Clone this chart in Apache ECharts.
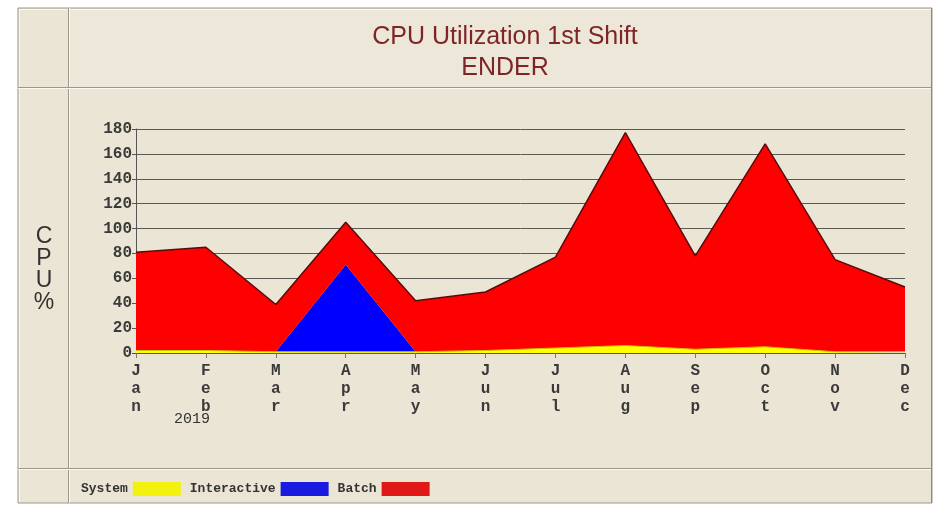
<!DOCTYPE html>
<html>
<head>
<meta charset="utf-8">
<script src="https://cdn.jsdelivr.net/npm/echarts@6/dist/echarts.min.js"></script>
<style>
html,body{margin:0;padding:0;background:#ffffff;}
#c{width:942px;height:505px;}
</style>
</head>
<body>
<div id="c"></div>
<script>
const categories = ['Jan','Feb','Mar','Apr','May','Jun','Jul','Aug','Sep','Oct','Nov','Dec'];
const systemValues = [2, 2, 1, 1, 1, 2, 4, 6, 3, 5, 1, 1];
const interactiveValues = [0, 0, 0, 70, 0, 0, 0, 0, 0, 0, 0, 0];
const batchValues = [79, 83, 38, 34, 41, 47, 73, 171, 75, 163, 74, 52];
const yTicks = [0, 20, 40, 60, 80, 100, 120, 140, 160, 180];
const titleLines = ['CPU Utilization 1st Shift', 'ENDER'];
const yearLabel = '2019';

const chart = echarts.init(document.getElementById('c'), null, {renderer: 'canvas'});

const bg = '#ebe5d6';
const dark = '#9c978a';
const light = '#fbf8ef';

function hline(x1, x2, y, color) {
  return {type: 'line', shape: {x1: x1, y1: y, x2: x2, y2: y}, style: {stroke: color, lineWidth: 1}, silent: true};
}
function vline(x, y1, y2, color) {
  return {type: 'line', shape: {x1: x, y1: y1, x2: x, y2: y2}, style: {stroke: color, lineWidth: 1}, silent: true};
}

const frame = [
  {type: 'rect', shape: {x: 18, y: 8, width: 914, height: 495}, style: {fill: bg, stroke: dark, lineWidth: 1}, z: -10, silent: true},
  {type: 'rect', shape: {x: 69, y: 9, width: 862, height: 78}, style: {fill: '#ede7da'}, z: -9, silent: true},
  vline(19.5, 9, 502, light),
  hline(19, 931, 9.5, light),
  vline(68.5, 8, 503, dark),
  vline(69.5, 8, 503, light),
  hline(18, 932, 87.5, dark),
  hline(18, 932, 88.5, light),
  hline(18, 932, 468.5, dark),
  hline(18, 932, 469.5, light),
  vline(931.5, 8, 503, '#8f8a7e'),
  {type: 'text', x: 44, y: 270, style: {text: 'C\nP\nU\n%', font: '23px "Liberation Sans", Arial, sans-serif', fill: '#333', lineHeight: 22, align: 'center', verticalAlign: 'middle'}, silent: true},
  {type: 'text', x: 192, y: 419, style: {text: yearLabel, font: '15px "Liberation Mono", "Courier New", monospace', fill: '#333', align: 'center', verticalAlign: 'middle'}, silent: true}
];

const option = {
  backgroundColor: '#ffffff',
  animation: false,
  title: {
    text: titleLines.join('\n'),
    left: 500,
    top: 17,
    textAlign: 'center',
    textStyle: {fontFamily: '"Liberation Sans", Arial, sans-serif', fontSize: 25, fontWeight: 'normal', color: '#7e2626', lineHeight: 31}
  },
  legend: {
    left: 76,
    top: 477,
    align: 'right',
    itemWidth: 48,
    itemHeight: 14,
    itemGap: 9,
    icon: 'rect',
    textStyle: {fontFamily: '"Liberation Mono", "Courier New", monospace', fontSize: 13, fontWeight: 'bold', color: '#333', padding: [0, 0, 0, 0]},
    data: ['System', 'Interactive', 'Batch']
  },
  grid: {left: 136, right: 37, top: 129, bottom: 152},
  xAxis: {
    type: 'category',
    data: categories,
    boundaryGap: false,
    axisLine: {lineStyle: {color: '#555', width: 1}},
    axisTick: {show: true, length: 5, lineStyle: {color: '#777'}},
    axisLabel: {
      margin: 9,
      fontFamily: '"Liberation Mono", "Courier New", monospace',
      fontSize: 16,
      fontWeight: 'bold',
      color: '#3a3a3a',
      lineHeight: 18,
      formatter: function (v) { return v.split('').join('\n'); }
    },
    splitLine: {show: false}
  },
  yAxis: {
    type: 'value',
    min: yTicks[0],
    max: yTicks[yTicks.length - 1],
    interval: yTicks[1] - yTicks[0],
    axisLine: {show: true, lineStyle: {color: '#555', width: 1}},
    axisTick: {show: true, length: 4, lineStyle: {color: '#555'}},
    axisLabel: {margin: 4, fontFamily: '"Liberation Mono", "Courier New", monospace', fontSize: 16, fontWeight: 'bold', color: '#3a3a3a'},
    splitLine: {show: true, lineStyle: {color: '#5a5a55', width: 1}}
  },
  series: [
    {
      name: 'System', type: 'line', stack: 'cpu', data: systemValues, symbol: 'none',
      itemStyle: {color: '#f2f20e'},
      lineStyle: {color: '#c9c400', width: 1},
      areaStyle: {color: '#ffff00', opacity: 1}
    },
    {
      name: 'Interactive', type: 'line', stack: 'cpu', data: interactiveValues, symbol: 'none',
      itemStyle: {color: '#1a1ae0'},
      lineStyle: {width: 0},
      areaStyle: {color: '#0000ff', opacity: 1}
    },
    {
      name: 'Batch', type: 'line', stack: 'cpu', data: batchValues, symbol: 'none',
      itemStyle: {color: '#e01818'},
      lineStyle: {color: '#5a0a0a', width: 1.5},
      areaStyle: {color: '#ff0000', opacity: 1}
    }
  ],
  graphic: frame
};

chart.setOption(option);
</script>
</body>
</html>
